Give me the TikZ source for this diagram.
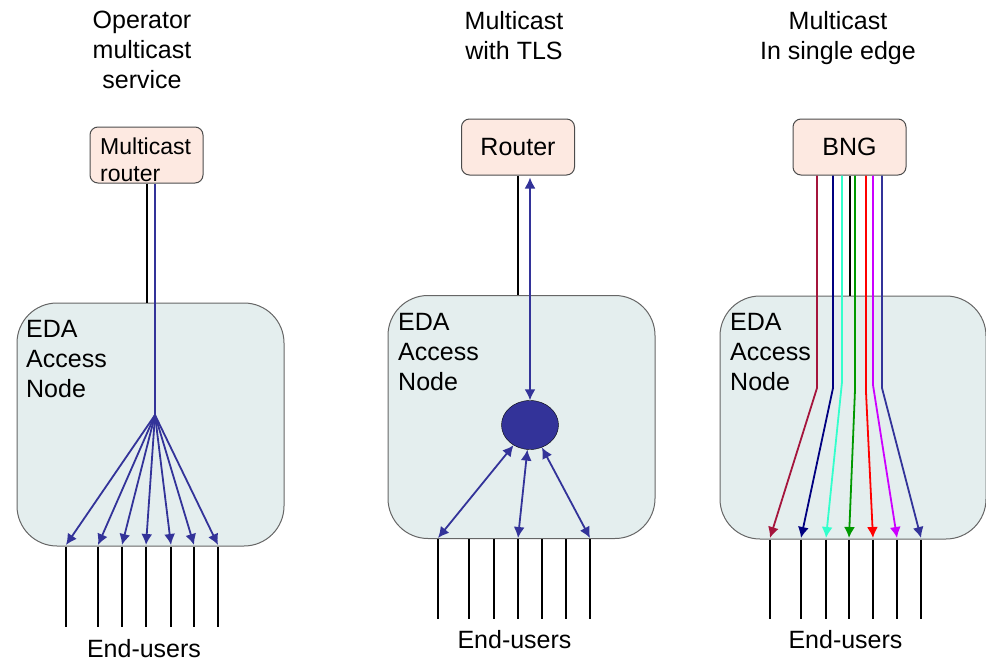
\documentclass[tikz,border=0pt]{standalone}
\usepackage{fontspec}
\setmainfont{Liberation Sans}
\usetikzlibrary{positioning}
\usetikzlibrary{shapes.geometric}
\usetikzlibrary{arrows.meta}
\definecolor{edafill}{HTML}{E4EEEE}
\definecolor{routerfill}{HTML}{FDE9E1}
\definecolor{mcblue}{HTML}{333399}
\definecolor{mccrimson}{HTML}{A5153C}
\definecolor{mcnavy}{HTML}{000080}
\definecolor{mcaqua}{HTML}{33FFCC}
\definecolor{mcgreen}{HTML}{009900}
\definecolor{mcred}{HTML}{FF0000}
\definecolor{mcviolet}{HTML}{CC00FF}

\begin{document}
\begin{tikzpicture}[
  x=1pt,y=-1pt,
  font=\fontsize{25}{30}\selectfont,
  title/.style={align=center,anchor=north,inner sep=0pt},
  rbox/.style={draw=black!70,fill=routerfill,rounded corners=8pt,minimum width=113pt,minimum height=56pt,line width=1pt},
  edabox/.style={draw=black!60,fill=edafill,rounded corners=40pt,minimum width=267pt,minimum height=243pt,line width=1pt},
  edatext/.style={align=left,anchor=north west,inner sep=0pt},
  wire/.style={line width=2pt},
  mcarrow/.style={draw=mcblue,line width=1.8pt,-{Latex[length=11pt,width=11pt]}},
  mcboth/.style={draw=mcblue,line width=1.8pt,{Latex[length=11pt,width=11pt]}-{Latex[length=11pt,width=11pt]}}
]
\useasboundingbox (0,0) rectangle (986,661);

% operator multicast service
\node[title] (title1) at (142,11) {Operator\\multicast\\service};
\node[rbox] (mrouter) at (146.5,155) {};
\node[edatext,font=\fontsize{23}{27}\selectfont] (mroutertxt) at (100,138) {Multicast\\router};
\node[edabox] (eda1) at (150.5,424.5) {};
\node[edatext] (eda1txt) at (26,320.5) {EDA\\Access\\Node};
\coordinate (fan) at (155,415);
\draw[wire] (mrouter.south) -- (mrouter.south |- eda1.north);
\draw[mcblue,line width=2pt] (mrouter.south -| fan) -- (fan);
\foreach \x [count=\i] in {66,98,122,146,171,194,218} {
  \coordinate (u\i) at (\x,545);
  \coordinate (e\i) at (\x,627);
  \path (fan) edge[mcarrow] (u\i);
  \draw[wire] (u\i |- eda1.south) -- (e\i);
}
\node[anchor=base] (users1) at (144,657) {End-users};

% multicast with TLS
\node[title] (title2) at (514,11) {Multicast\\with TLS};
\node[rbox] (router) at (518,147) {Router};
\node[edabox] (eda2) at (521.5,417) {};
\node[edatext] (eda2txt) at (398,313.5) {EDA\\Access\\Node};
\node[ellipse,draw,fill=mcblue,minimum width=57pt,minimum height=49pt,inner sep=0pt] (hub) at (530,425) {};
\draw[wire] (router.south) -- (router.south |- eda2.north);
\path ([yshift=-2pt]router.south -| hub) edge[mcboth] (hub.north);
\foreach \x [count=\i] in {438,469,494,518,542,566,590} {
  \coordinate (v\i) at (\x,538);
  \coordinate (f\i) at (\x,619);
  \draw[wire] (v\i |- eda2.south) -- (f\i);
}
\path (hub) edge[mcboth] (v1)
(hub) edge[mcboth] (v4)
(hub) edge[mcboth] (v7)
;
\node[anchor=base] (users2) at (514.5,648) {End-users};

% multicast in single edge
\node[title] (title3) at (838,11) {Multicast\\In single edge};
\node[rbox] (bng) at (849.5,147) {BNG};
\node[edabox,minimum width=266pt] (eda3) at (853,417.5) {};
\node[edatext] (eda3txt) at (730,313.5) {EDA\\Access\\Node};
\draw[wire] (bng.south) -- (bng.south |- eda3.north);
\foreach \x/\by/\t/\c [count=\i] in {817/388/770/mccrimson,833/388/801/mcnavy,842/382/826/mcaqua,855/390/849/mcgreen,866/392/873/mcred,873/385/897/mcviolet,882/388/921/mcblue} {
  \coordinate (k\i) at (\x,\by);
  \coordinate (w\i) at (\t,538);
  \coordinate (g\i) at (\t,619);
  \draw[\c,line width=1.8pt,-{Latex[length=11pt,width=11pt]}] (bng.south -| k\i) -- (k\i) -- (w\i);
  \draw[wire] (w\i |- eda3.south) -- (g\i);
}
\node[anchor=base] (users3) at (845.5,648) {End-users};

\end{tikzpicture}
\end{document}
